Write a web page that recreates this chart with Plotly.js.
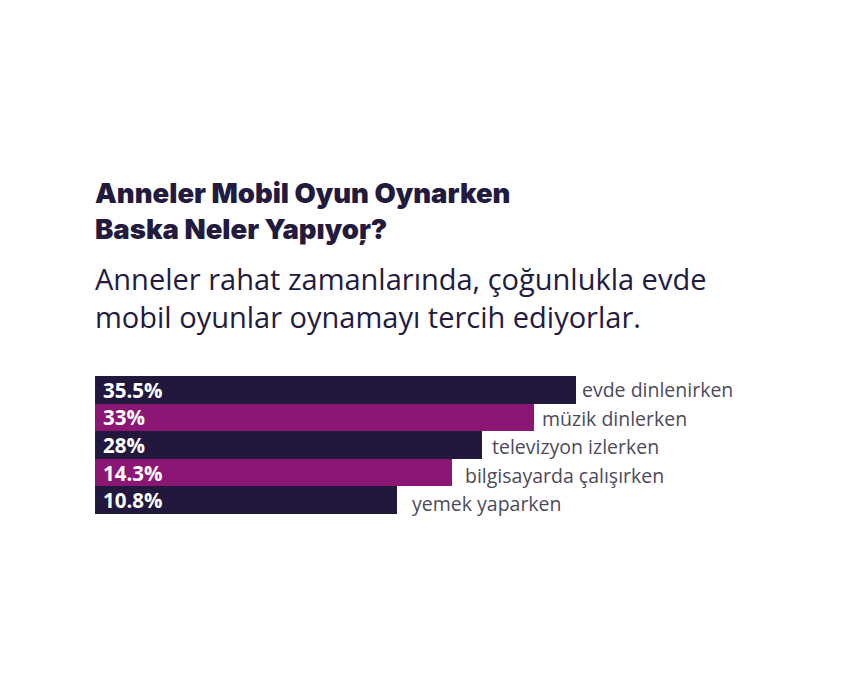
<!DOCTYPE html>
<html><head><meta charset="utf-8">
<script src="https://cdn.plot.ly/plotly-3.0.1.min.js"></script>
<style>body{margin:0;background:#fff}#chart{width:841px;height:700px}</style>
</head><body><div id="chart"></div>
<script>
var categories = ["evde dinlenirken","müzik dinlerken","televizyon izlerken","bilgisayarda çalışırken","yemek yaparken"];
var values = [35.5, 33, 28, 14.3, 10.8];
var valueLabels = ["35.5%","33%","28%","14.3%","10.8%"];
// displayed bar lengths (not proportional to values)
var barLengths = [481, 439, 387, 357, 302];
var barColors = ["#22183e","#8c1673","#22183e","#8c1673","#22183e"];
var titleLines = ["Anneler Mobil Oyun Oynarken", "Baska Neler Yapıyoŗ?"];
var subtitleLines = ["Anneler rahat zamanlarında, çoğunlukla evde", "mobil oyunlar oynamayı tercih ediyorlar."];

var W = 841, H = 700, L = 95, T = 376, B = 186, R = 0;
var plotH = H - T - B, plotW = W - L - R;
function py(p){ return (H - B - p) / plotH; }

var trace = {
  type: "bar", orientation: "h",
  y: categories, x: barLengths,
  marker: {color: barColors, line: {width: 0}},
  hoverinfo: "none"
};

var annotations = [];
categories.forEach(function(c, i){
  annotations.push({x: barLengths[i], y: c, xref: "x", yref: "y", text: c, showarrow: false,
    xanchor: "left", yanchor: "middle", xshift: 4 + i*2.2, yshift: -i*0.8,
    font: {family: "'Open Sans', sans-serif", size: 19.5, color: "#4d4a5c"}});
  annotations.push({x: 0, y: c, xref: "x", yref: "y", text: valueLabels[i], showarrow: false,
    xanchor: "left", yanchor: "middle", xshift: 7, borderpad: 0,
    font: {family: "'Open Sans', sans-serif", size: 20.5, color: "#ffffff", weight: 700}});
});
annotations.push({x: 0, y: py(211), xref: "paper", yref: "paper", text: titleLines.join("<br>"),
  showarrow: false, xanchor: "left", yanchor: "middle", align: "left", xshift: -2,
  font: {family: "Inter, 'Open Sans', sans-serif", size: 27.5, color: "#231a3f", weight: 900}});
annotations.push({x: 0, y: py(297), xref: "paper", yref: "paper", text: subtitleLines.join("<br>"),
  showarrow: false, xanchor: "left", yanchor: "middle", align: "left", xshift: -2,
  font: {family: "'Open Sans', sans-serif", size: 29, color: "#231a3f"}});

var layout = {
  width: W, height: H,
  margin: {l: L, r: R, t: T, b: B, pad: 0},
  paper_bgcolor: "#ffffff", plot_bgcolor: "#ffffff",
  showlegend: false, bargap: 0,
  xaxis: {range: [0, plotW], autorange: false, visible: false, fixedrange: true},
  yaxis: {range: [categories.length - 0.5, -0.5], autorange: false, visible: false, fixedrange: true},
  annotations: annotations
};
Plotly.newPlot("chart", [trace], layout, {staticPlot: true, displayModeBar: false});
</script></body></html>
